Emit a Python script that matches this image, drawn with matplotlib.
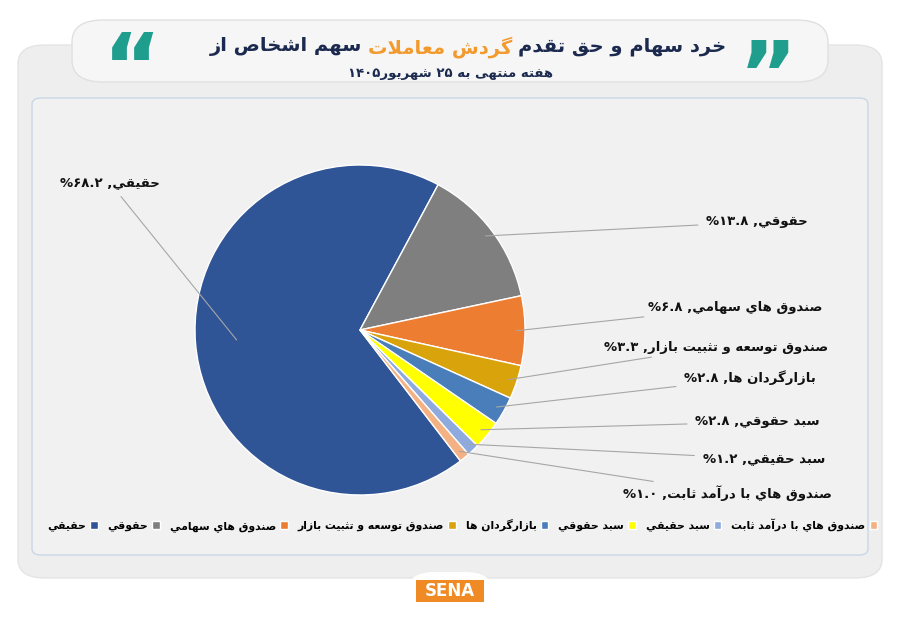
import re

import matplotlib

matplotlib.use("Agg")
import matplotlib.pyplot as plt
import numpy as np
from matplotlib.patches import FancyBboxPatch, Rectangle

# ---- data ----
categories = ["حقيقي", "حقوقي", "صندوق هاي سهامي", "صندوق توسعه و تثبيت بازار",
              "بازارگردان ها", "سبد حقوقي", "سبد حقيقي", "صندوق هاي با درآمد ثابت"]
shares = [68.2, 13.8, 6.8, 3.3, 2.8, 2.8, 1.2, 1.0]
share_labels = ["۶۸.۲", "۱۳.۸", "۶.۸", "۳.۳", "۲.۸", "۲.۸", "۱.۲", "۱.۰"]
colors = ["#2F5597", "#7F7F7F", "#ED7D31", "#D9A30B", "#4A7EBB", "#FFFF00", "#8FAADC", "#F4B183"]

title_parts = ["سهم اشخاص از", "گردش معاملات", "خرد سهام و حق تقدم"]
subtitle = "هفته منتهی به ۲۵ شهریور۱۴۰۵"

# ---- minimal arabic/persian shaping (no arabic_reshaper available) ----
FORMS = {  # isolated, final, initial, medial
    "ا": (0xFE8D, 0xFE8E, None, None), "آ": (0xFE81, 0xFE82, None, None),
    "ب": (0xFE8F, 0xFE90, 0xFE91, 0xFE92), "ت": (0xFE95, 0xFE96, 0xFE97, 0xFE98),
    "ث": (0xFE99, 0xFE9A, 0xFE9B, 0xFE9C), "ح": (0xFEA1, 0xFEA2, 0xFEA3, 0xFEA4),
    "خ": (0xFEA5, 0xFEA6, 0xFEA7, 0xFEA8), "د": (0xFEA9, 0xFEAA, None, None),
    "ر": (0xFEAD, 0xFEAE, None, None), "ز": (0xFEAF, 0xFEB0, None, None),
    "س": (0xFEB1, 0xFEB2, 0xFEB3, 0xFEB4), "ش": (0xFEB5, 0xFEB6, 0xFEB7, 0xFEB8),
    "ص": (0xFEB9, 0xFEBA, 0xFEBB, 0xFEBC), "ع": (0xFEC9, 0xFECA, 0xFECB, 0xFECC),
    "ف": (0xFED1, 0xFED2, 0xFED3, 0xFED4), "ق": (0xFED5, 0xFED6, 0xFED7, 0xFED8),
    "ل": (0xFEDD, 0xFEDE, 0xFEDF, 0xFEE0), "م": (0xFEE1, 0xFEE2, 0xFEE3, 0xFEE4),
    "ن": (0xFEE5, 0xFEE6, 0xFEE7, 0xFEE8), "ه": (0xFEE9, 0xFEEA, 0xFEEB, 0xFEEC),
    "و": (0xFEED, 0xFEEE, None, None), "ي": (0xFEF1, 0xFEF2, 0xFEF3, 0xFEF4),
    "ی": (0xFBFC, 0xFBFD, 0xFBFE, 0xFBFF), "گ": (0xFB92, 0xFB93, 0xFB94, 0xFB95),
}


def _dual(ch):
    return ch in FORMS and FORMS[ch][2] is not None


def shape(text):
    chars = list(text)
    out = []
    i = 0
    while i < len(chars):
        ch = chars[i]
        prev = chars[i - 1] if i > 0 else ""
        joins_prev = _dual(prev) and ch in FORMS
        if ch == "ل" and i + 1 < len(chars) and chars[i + 1] in "اآ":
            iso, fin = (0xFEFB, 0xFEFC) if chars[i + 1] == "ا" else (0xFEF5, 0xFEF6)
            out.append(chr(fin if joins_prev else iso))
            i += 2
            continue
        if ch not in FORMS:
            out.append(ch)
            i += 1
            continue
        nxt = chars[i + 1] if i + 1 < len(chars) else ""
        joins_next = _dual(ch) and nxt in FORMS
        iso, fin, ini, med = FORMS[ch]
        if joins_prev and joins_next:
            code = med
        elif joins_prev:
            code = fin
        elif joins_next:
            code = ini
        else:
            code = iso
        out.append(chr(code))
        i += 1
    return "".join(out)


def fa(text):
    vis = shape(text)[::-1]
    return re.sub(r"[۰-۹0-9.]+", lambda m: m.group()[::-1], vis)


plt.rcParams["font.family"] = ["DejaVu Sans"]

fig = plt.figure(figsize=(9, 6.23), dpi=100)
fig.patch.set_facecolor("white")
W, H = 900, 623


def px(x, y):
    return x / W, 1 - y / H


def box(x0, y0, x1, y1, **kw):
    (a, b), (c, d) = px(x0, y1), px(x1, y0)
    fig.patches.append(FancyBboxPatch((a, b), c - a, d - b, transform=fig.transFigure, zorder=-5, **kw))


box(18, 45, 882, 578, boxstyle="round,pad=0,rounding_size=0.03", fc="#EEEEEE", ec="#E4E4E4", lw=1)
box(32, 98, 868, 555, boxstyle="round,pad=0,rounding_size=0.01", fc="#F1F1F1", ec="#C9D6E6", lw=1)
box(72, 20, 828, 82, boxstyle="round,pad=0,rounding_size=0.035", fc="#F6F6F6", ec="#E0E0E0", lw=1)
box(408, 572, 492, 612, boxstyle="round,pad=0,rounding_size=0.03", fc="white", ec="none")

# title: three pieces laid out by measured width
navy = "#1B2A4E"
teal = "#1F9E8E"
renderer = fig.canvas.get_renderer()
part_colors = [navy, "#F29A2E", navy]
pieces = [fig.text(0, 0, fa(t), ha="left", va="center", fontsize=14, fontweight="bold", color=c)
          for t, c in zip(title_parts, part_colors)]
widths = [p.get_window_extent(renderer).width for p in pieces]
gap = 6
x = 468 - (sum(widths) + gap * 2) / 2
for p, w in zip(pieces, widths):
    p.set_position(px(x, 47))
    x += w + gap
fig.text(*px(450, 73), fa(subtitle), ha="center", va="center", fontsize=9.5, fontweight="bold", color=navy)
fig.text(*px(132, 72), "\u201c", ha="center", va="center", fontsize=64, fontweight="bold", color=teal)
fig.text(*px(768, 80), "\u201d", ha="center", va="center", fontsize=64, fontweight="bold", color=teal)

# logo
fig.patches.append(Rectangle(px(416, 602), 68 / W, 22 / H, transform=fig.transFigure, fc="#F08A24", ec="none"))
fig.text(*px(450, 591), "SENA", ha="center", va="center", fontsize=12, fontweight="bold", color="white")

# pie
ax = fig.add_axes([195 / W, 1 - 495 / H, 330 / W, 330 / H])
wedges, _ = ax.pie(shares, colors=colors, startangle=307.5, counterclock=False,
                   wedgeprops=dict(edgecolor="white", linewidth=1))
ax.set_aspect("equal")
ax.set_xlim(-1, 1)
ax.set_ylim(-1, 1)

label_pos = [(160, 183), (808, 222), (822, 307), (828, 347), (816, 378), (820, 422), (825, 459), (832, 493)]
for w, name, val, (lx, ly) in zip(wedges, categories, share_labels, label_pos):
    ang = np.deg2rad((w.theta1 + w.theta2) / 2)
    r = 0.75 if val == share_labels[0] else 0.95
    xy = (r * np.cos(ang), r * np.sin(ang))
    ax.annotate(fa(f"{name}, {val}%"), xy=xy, xycoords="data",
                xytext=px(lx, ly), textcoords="figure fraction",
                ha="right", va="center", fontsize=9.5, fontweight="bold", color="#111111",
                arrowprops=dict(arrowstyle="-", color="#A6A6A6", lw=0.8, shrinkA=4, shrinkB=0),
                annotation_clip=False)

fig.legend(wedges, [fa(c) for c in categories], loc="center", bbox_to_anchor=px(462, 525),
           ncol=8, frameon=False, markerfirst=False, handlelength=0.7,
           handleheight=0.7, columnspacing=0.9, handletextpad=0.4,
           prop=dict(weight="bold", size=7.8))

fig.savefig("out.png", dpi=100)
